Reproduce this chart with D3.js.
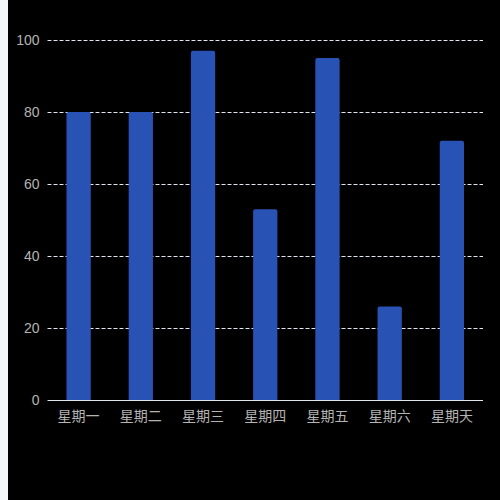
<!DOCTYPE html>
<html lang="zh">
<head>
  <meta charset="UTF-8">
  <title>星期柱状图</title>
  <script src="https://d3js.org/d3.v7.min.js"></script>
  <style>
    html, body {
      margin: 0;
      padding: 0;
      background: #f5f6fa;
    }
    svg {
      display: block;
    }
  </style>
</head>
<body>
  <svg width="500" height="500"></svg>
  <script>
    const days = ["星期一", "星期二", "星期三", "星期四", "星期五", "星期六", "星期天"];
    const values = [80, 80, 97, 53, 95, 26, 72];
    const yTicks = [0, 20, 40, 60, 80, 100];

    const svg = d3.select("svg");
    const font = "'Liberation Sans', 'Noto Sans CJK SC', sans-serif";

    // dark panel, a thin light strip is left on the left edge
    svg.append("rect")
      .attr("x", 8).attr("y", 0)
      .attr("width", 492).attr("height", 500)
      .attr("fill", "#000");

    const plotLeft = 47.5, plotRight = 483, plotTop = 40, plotBottom = 400;

    const x = d3.scaleBand().domain(days).range([plotLeft, plotRight]);
    const y = d3.scaleLinear().domain([0, 100]).range([plotBottom, plotTop]);

    // dashed grid lines
    svg.append("g")
      .selectAll("line")
      .data(yTicks.filter(d => d > 0))
      .enter()
      .append("line")
      .attr("x1", plotLeft).attr("x2", plotRight)
      .attr("y1", d => Math.round(y(d)) + 0.5)
      .attr("y2", d => Math.round(y(d)) + 0.5)
      .attr("stroke", "#e0e6f1")
      .attr("stroke-dasharray", "4,2");

    // y axis labels
    svg.append("g")
      .selectAll("text")
      .data(yTicks)
      .enter()
      .append("text")
      .attr("x", plotLeft - 8)
      .attr("y", d => y(d))
      .attr("dy", "0.36em")
      .attr("text-anchor", "end")
      .attr("fill", "#b4b4b4")
      .style("font-family", font)
      .style("font-size", "14px")
      .text(d => d);

    // bars
    const barW = x.bandwidth() * 0.39;
    svg.append("g")
      .selectAll("path")
      .data(values)
      .enter()
      .append("path")
      .attr("fill", "#2853b5")
      .attr("d", (d, i) => {
        const x0 = x(days[i]) + (x.bandwidth() - barW) / 2;
        const x1 = x0 + barW;
        const y0 = y(d), y1 = y(0);
        const r = 2;
        return `M${x0},${y1}V${y0 + r}Q${x0},${y0} ${x0 + r},${y0}` +
               `H${x1 - r}Q${x1},${y0} ${x1},${y0 + r}V${y1}Z`;
      });

    // x axis line
    svg.append("line")
      .attr("x1", plotLeft).attr("x2", plotRight)
      .attr("y1", plotBottom + 0.5).attr("y2", plotBottom + 0.5)
      .attr("stroke", "#e0e6f1");

    // x axis labels
    svg.append("g")
      .selectAll("text")
      .data(days)
      .enter()
      .append("text")
      .attr("x", d => x(d) + x.bandwidth() / 2)
      .attr("y", plotBottom + 16)
      .attr("dy", "0.36em")
      .attr("text-anchor", "middle")
      .attr("fill", "#b4b4b4")
      .style("font-family", font)
      .style("font-size", "14px")
      .text(d => d);
  </script>
</body>
</html>
